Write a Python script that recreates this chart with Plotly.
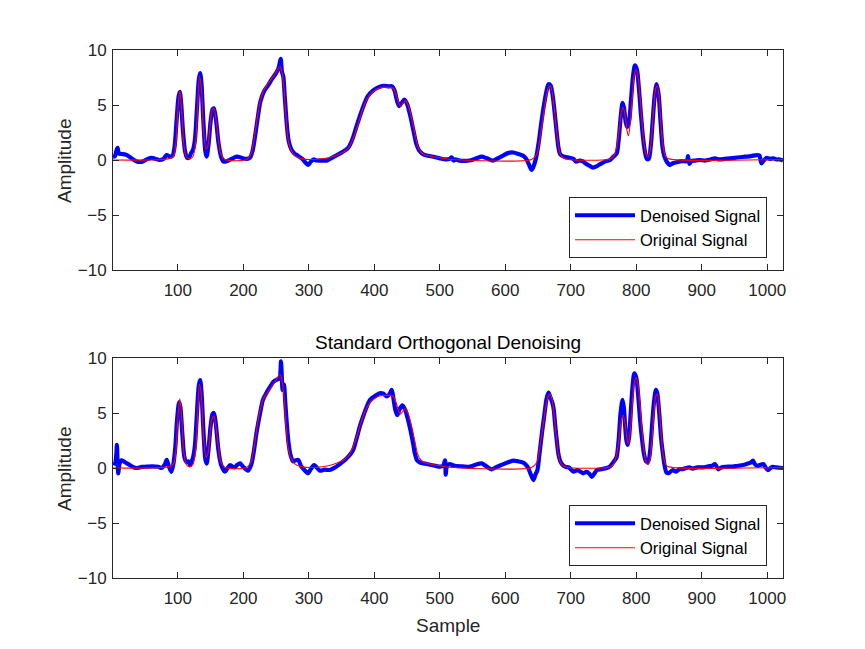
import plotly.graph_objects as go

# ---------------- data ----------------
orig_x = [1, 60, 85, 93, 97, 100, 103, 106, 109, 113, 118, 123, 127, 130, 133, 136, 139, 143, 146, 149,
          152, 155, 158, 162, 166, 172, 205, 212, 218, 224, 230, 236, 242, 248, 253, 256, 259, 262, 265,
          268, 272, 278, 290, 310, 330, 345, 355, 362, 368, 374, 380, 386, 393, 400, 408, 416, 424, 429,
          433, 437, 440, 444, 448, 452, 457, 462, 466, 470, 476, 490, 505, 520, 640, 648, 653, 658, 662,
          666, 669, 672, 675, 678, 681, 685, 692, 760, 766, 770, 774, 777, 780, 783, 786, 788, 791, 794,
          797, 800, 803, 806, 809, 812, 815, 818, 821, 824, 827, 830, 832, 835, 838, 841, 845, 850, 1024]
orig_y = [0, 0, 0.1, 0.3, 1.5, 4.5, 6.3, 4.5, 1.5, 0.3, 0.1, 0.3, 1.5, 4.5, 7.6, 6.5, 3.0, 1.0, 1.3, 3.0,
          4.5, 4.7, 3.8, 1.8, 0.5, 0.05, 0.05, 0.6, 2.5, 4.8, 6.2, 6.8, 7.3, 7.8, 8.3, 8.5, 8.0, 6.5, 4.0,
          2.0, 1.0, 0.4, 0.1, 0.05, 0.2, 0.5, 0.8, 1.2, 2.0, 3.0, 4.2, 5.2, 5.9, 6.3, 6.55, 6.6, 6.6, 6.5,
          6.0, 5.2, 4.9, 5.2, 5.4, 4.9, 3.8, 2.4, 1.3, 0.8, 0.5, 0.3, 0.15, 0.05, 0.05, 0.5, 2.0, 4.0, 5.6,
          6.6, 6.7, 6.0, 4.5, 2.8, 1.3, 0.4, 0.1, 0.1, 0.4, 1.2, 2.8, 4.3, 4.8, 4.0, 2.6, 2.2, 3.5, 5.8,
          7.8, 8.2, 7.4, 5.5, 3.2, 1.4, 0.5, 0.3, 0.8, 2.6, 5.0, 6.6, 6.7, 5.5, 3.0, 1.2, 0.3, 0.1, 0.05]

den1_x = [1, 4, 6, 8, 10, 14, 20, 26, 32, 38, 46, 54, 60, 66, 72, 78, 83, 88, 92, 95, 98, 101, 103, 105,
          108, 111, 114, 117, 120, 123, 126, 129, 132, 134, 136, 139, 142, 144, 147, 150, 153, 155, 158,
          162, 166, 170, 175, 182, 190, 197, 205, 210, 214, 220, 226, 232, 238, 244, 250, 254, 257, 259,
          261, 263, 266, 269, 273, 278, 283, 290, 296, 299, 303, 307, 312, 320, 328, 335, 343, 352, 360,
          366, 372, 378, 384, 390, 398, 406, 414, 422, 427, 431, 435, 438, 442, 446, 450, 455, 460, 464,
          468, 474, 480, 490, 500, 510, 515, 518, 521, 524, 530, 546, 556, 564, 572, 581, 590, 598, 605,
          612, 620, 627, 632, 636, 640, 643, 647, 651, 655, 659, 663, 666, 669, 672, 675, 678, 681, 684,
          690, 698, 704, 708, 713, 718, 722, 728, 734, 740, 747, 754, 760, 765, 770, 773, 776, 779, 781,
          784, 786, 789, 792, 795, 798, 801, 804, 807, 810, 813, 816, 819, 822, 825, 828, 831, 834, 837,
          840, 843, 847, 851, 856, 862, 870, 877, 879, 881, 884, 890, 897, 905, 913, 920, 927, 935, 943,
          950, 958, 966, 975, 984, 988, 991, 994, 999, 1004, 1009, 1014, 1019, 1024]
den1_y = [0.3, 0.35, 0.8, 1.1, 0.6, 0.55, 0.5, 0.3, 0.05, -0.15, -0.15, 0.1, 0.2, 0.1, 0, 0.1, 0.45, 0.3,
          0.4, 1.2, 3.5, 5.7, 6.2, 5.2, 2.5, 0.8, 0.2, 0.2, 0.6, 0.9, 1.8, 4.5, 7.3, 7.9, 7.0, 3.5, 0.8,
          0.3, 1.5, 3.5, 4.6, 4.7, 3.8, 1.6, 0.3, -0.15, -0.1, 0.1, 0.3, 0.2, 0.1, 0.2, 0.8, 3.0, 5.3, 6.3,
          6.8, 7.4, 7.9, 8.4, 9.2, 8.0, 7.6, 6.0, 3.5, 1.8, 1.0, 0.6, 0.4, 0.1, -0.3, -0.45, -0.15, 0.05,
          -0.05, -0.05, -0.05, 0.2, 0.45, 0.75, 1.1, 1.8, 2.9, 4.0, 5.0, 5.8, 6.3, 6.6, 6.75, 6.7, 6.7, 6.3,
          5.3, 4.9, 5.2, 5.5, 5.1, 4.0, 2.6, 1.5, 0.9, 0.55, 0.4, 0.3, 0.15, 0.05, 0.1, 0.25, -0.05, 0.05,
          -0.05, -0.05, 0.15, 0.3, 0.15, -0.05, 0.2, 0.45, 0.65, 0.68, 0.55, 0.4, 0.1, -0.4, -0.9, -0.6,
          0.2, 1.6, 3.4, 5.0, 6.3, 6.9, 6.8, 6.0, 4.5, 2.8, 1.2, 0.5, 0.3, 0.2, 0.1, -0.15, -0.05, -0.1,
          -0.3, -0.5, -0.7, -0.55, -0.3, -0.1, 0, 0.3, 0.6, 1.8, 3.8, 5.2, 4.8, 3.4, 3.0, 3.5, 5.5, 7.6,
          8.6, 8.2, 6.5, 4.2, 2.2, 0.8, 0.1, 0.1, 1.2, 3.5, 5.8, 6.9, 6.0, 3.5, 1.2, 0.3, -0.2, -0.45,
          -0.3, -0.2, -0.1, -0.1, 0.35, -0.35, -0.1, -0.05, 0, -0.05, 0.05, 0.15, 0.05, 0.1, 0.15, 0.2,
          0.25, 0.3, 0.35, 0.45, 0.4, -0.3, -0.1, 0.2, 0.1, 0.15, 0.05, 0.05, -0.05]

den2_x = [1, 4, 6, 7, 8, 9, 11, 14, 20, 27, 33, 37, 45, 52, 60, 70, 75, 80, 83, 86, 90, 93, 96, 99, 102,
          104, 107, 110, 113, 116, 118.5, 121, 123, 126, 129, 132, 134, 136, 139, 142, 144, 147, 150, 153,
          155, 158, 162, 166, 172, 176, 180, 184, 187, 191, 195, 200, 207, 212, 216, 220, 225, 230, 236,
          241, 246, 250, 254, 256, 257.5, 259, 260, 262, 264, 266, 269, 272, 276, 280, 284, 288, 292, 296,
          299, 303, 308, 312, 317, 324, 332, 340, 346, 352, 358, 364, 368, 373, 378, 383, 388, 393.5, 400,
          408, 414, 419, 423, 426.5, 429, 432, 435, 439, 443, 447, 451, 455, 459, 462, 465, 470, 475, 485,
          493, 500, 505, 508, 509, 511, 515, 520, 525, 535, 546, 555, 564, 571, 579, 587, 594, 603, 612,
          620, 627.5, 632, 635, 639, 643, 646, 649, 652, 656, 660, 663, 666, 669, 672, 674, 676, 678, 681,
          684, 688, 692, 697, 704, 710, 715, 719, 724, 728, 732, 736, 740, 747, 755, 760, 764, 767.5, 770,
          773, 776, 779, 781, 783, 785, 787, 789, 791, 794, 797, 800, 803, 806, 809, 812, 815, 818, 821,
          824, 827, 830, 832, 835, 838, 840, 843, 846, 850, 855, 861, 866, 871, 876, 881, 886, 893, 902,
          910, 916, 920, 922, 925, 930, 940, 947, 955, 963, 970, 975, 978, 981, 985, 990, 994, 997, 1001,
          1005, 1008, 1014, 1019, 1024]
den2_y = [0.5, 0.4, 1.2, 2.1, 0.5, -0.5, 0.4, 0.7, 0.5, 0.25, 0.05, 0, 0.1, 0.12, 0.15, 0.12, 0.0, 0.3,
          0.75, 0.2, -0.35, 0.3, 1.8, 4.5, 6.0, 5.5, 3.0, 1.0, 0.55, 0.6, 0.27, 0.6, 0.9, 2.0, 4.8, 7.5,
          8.0, 7.0, 3.5, 0.8, 0.4, 1.8, 3.8, 4.9, 5.0, 4.0, 1.6, 0.3, -0.33, 0, 0.27, 0.1, 0.06, 0.3, 0.42,
          0.1, -0.24, 0.3, 1.5, 3.15, 4.8, 6.2, 6.9, 7.4, 7.85, 8.0, 8.1, 8.3, 9.7, 8.0, 7.1, 7.6, 6.0, 4.3,
          2.3, 1.2, 0.6, 0.7, 0.73, 0.2, -0.1, -0.35, -0.48, -0.1, 0.27, 0.05, -0.24, -0.15, -0.18, 0.05,
          0.3, 0.57, 0.9, 1.3, 1.7, 2.7, 3.8, 4.7, 5.5, 6.2, 6.5, 6.8, 6.75, 6.5, 6.7, 7.1, 6.4, 5.3, 4.8,
          5.4, 5.7, 5.3, 4.5, 3.5, 2.3, 1.3, 0.73, 0.5, 0.42, 0.3, 0.2, 0.12, 0.2, 0.7, -0.6, 0.2, 0.36,
          0.25, 0.18, 0.15, 0.12, 0.3, 0.42, 0.15, -0.12, 0.1, 0.27, 0.5, 0.67, 0.6, 0.48, 0.25, 0, -0.6,
          -1.1, -0.6, -0.2, 1.2, 3.2, 5.0, 6.3, 6.85, 6.4, 5.9, 5.3, 4.0, 2.85, 1.3, 0.6, 0.25, 0.1, 0.05,
          -0.33, -0.2, -0.35, -0.48, -0.35, -0.5, -0.8, -0.5, -0.18, -0.1, 0, 0.15, 0.45, 0.73, 1.0, 2.5,
          5.0, 6.2, 5.5, 3.8, 2.5, 2.1, 2.8, 4.5, 7.2, 8.6, 8.2, 6.5, 4.2, 2.5, 1.2, 0.6, 0.57, 1.5, 3.8,
          6.0, 7.1, 6.8, 5.0, 2.6, 1.6, 0.3, -0.4, -0.45, -0.2, -0.33, -0.1, -0.1, 0, 0.05, -0.05, 0.05,
          0.06, 0.15, 0.2, 0.36, 0.2, -0.12, 0.05, 0.12, 0.12, 0.2, 0.27, 0.4, 0.5, 0.67, 0.35, 0.18, 0.3,
          0.36, 0.1, -0.2, 0, 0.1, 0.05, 0.02, 0]

x_ticks = [100, 200, 300, 400, 500, 600, 700, 800, 900, 1000]
y_ticks = [-10, -5, 0, 5, 10]
x_range = [1, 1024]
y_range = [-10, 10]
title_text = "Standard Orthogonal Denoising"
names = ["Denoised Signal", "Original Signal"]

# ---------------- figure ----------------
W, H = 865, 649
ML, MR, MT, MB = 113, 82, 50, 71
ph = H - MT - MB
top_dom = [(578 - 270) / ph, 1.0]
bot_dom = [0.0, (578 - 358) / ph]

FONT = "Liberation Sans, Arial, sans-serif"
AX = "#262626"

fig = go.Figure()
panels = [("x", "y", den1_x, den1_y, "legend"), ("x2", "y2", den2_x, den2_y, "legend2")]
for xa, ya, dx, dy, lg in panels:
    fig.add_trace(go.Scatter(x=dx, y=dy, mode="lines", name=names[0], xaxis=xa, yaxis=ya,
                             line=dict(color="#0000FF", width=4.2, shape="spline", smoothing=0.8),
                             legend=lg))
    fig.add_trace(go.Scatter(x=orig_x, y=orig_y, mode="lines", name=names[1], xaxis=xa, yaxis=ya,
                             line=dict(color="#FF0000", width=1.1, shape="spline", smoothing=0.8),
                             legend=lg))

axis_common = dict(range=x_range, tickvals=x_ticks, ticks="inside", ticklen=6, tickcolor=AX,
                   showline=True, linecolor=AX, linewidth=1, mirror="ticks", showgrid=False,
                   zeroline=False, ticklabelstandoff=5,
                   tickfont=dict(family=FONT, size=17, color=AX))
yaxis_common = dict(range=y_range, tickvals=y_ticks, ticks="inside", ticklen=6, tickcolor=AX,
                    showline=True, linecolor=AX, linewidth=1, mirror="ticks", showgrid=False,
                    zeroline=False, ticklabelstandoff=2,
                    tickfont=dict(family=FONT, size=17, color=AX))

legend_common = dict(xanchor="right", yanchor="bottom", x=(767 - ML) / (W - ML - MR),
                     bgcolor="white", bordercolor=AX, borderwidth=1,
                     font=dict(family=FONT, size=16.5, color="black"), itemwidth=60,
                     tracegroupgap=0)

fig.update_layout(
    width=W, height=H, margin=dict(l=ML, r=MR, t=MT, b=MB),
    paper_bgcolor="white", plot_bgcolor="white", showlegend=True,
    xaxis=dict(domain=[0, 1], anchor="y", **axis_common),
    yaxis=dict(domain=top_dom, anchor="x", **yaxis_common),
    xaxis2=dict(domain=[0, 1], anchor="y2", **axis_common),
    yaxis2=dict(domain=bot_dom, anchor="x2", **yaxis_common),
    legend=dict(y=(578 - 258) / ph, **legend_common),
    legend2=dict(y=(578 - 566) / ph, **legend_common),
    annotations=[
        dict(text=title_text, xref="paper", yref="paper", x=0.5, y=(578 - 342) / ph,
             xanchor="center", yanchor="middle", showarrow=False,
             font=dict(family=FONT, size=19, color="black")),
        dict(text="Amplitude", xref="paper", yref="paper", x=(64 - ML) / (W - ML - MR),
             y=(578 - 160) / ph, xanchor="center", yanchor="middle", textangle=-90,
             showarrow=False, font=dict(family=FONT, size=19, color=AX)),
        dict(text="Amplitude", xref="paper", yref="paper", x=(64 - ML) / (W - ML - MR),
             y=(578 - 468) / ph, xanchor="center", yanchor="middle", textangle=-90,
             showarrow=False, font=dict(family=FONT, size=19, color=AX)),
        dict(text="Sample", xref="paper", yref="paper", x=0.5, y=(578 - 625) / ph,
             xanchor="center", yanchor="middle", showarrow=False,
             font=dict(family=FONT, size=19, color=AX)),
    ],
)

fig.write_html("out.html")
